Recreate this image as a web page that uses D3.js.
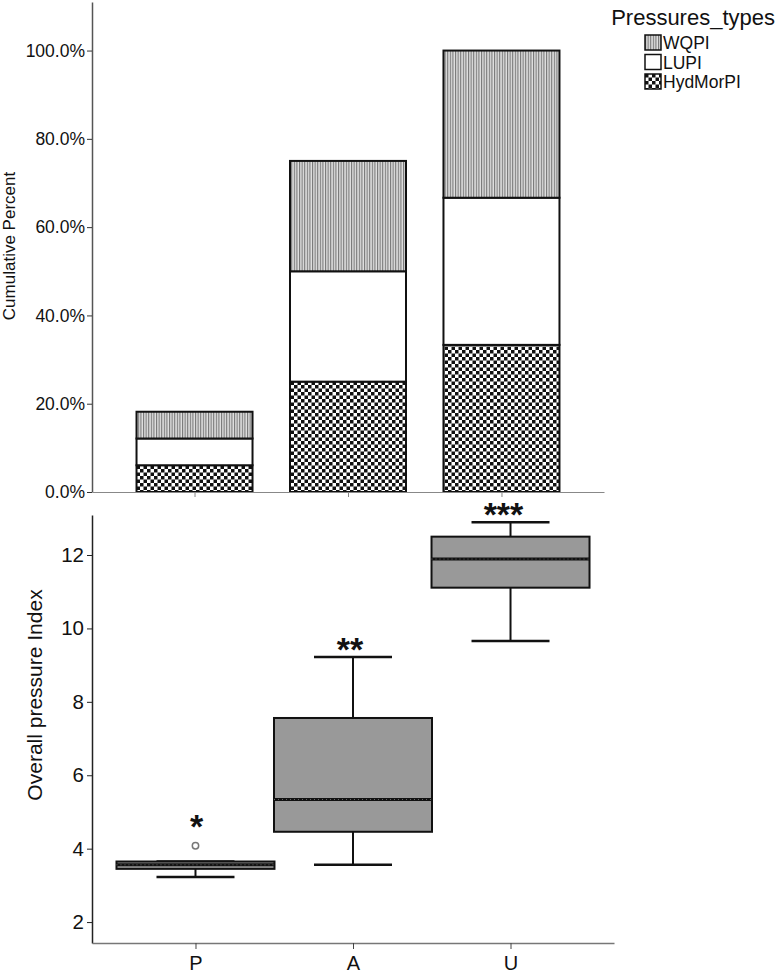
<!DOCTYPE html>
<html>
<head>
<meta charset="utf-8">
<script src="https://cdn.jsdelivr.net/npm/d3@7"></script>
<style>
  body { margin: 0; background: #fff; }
  svg { display: block; font-family: Arial, "Liberation Sans", sans-serif; }
</style>
</head>
<body>
<svg id="chart" width="780" height="976"></svg>
<script>
const FONT = 'Arial, "Liberation Sans", sans-serif';

// categories shared by both panels
const groups = ['P', 'A', 'U'];

// top panel: stacked percent per pressure type (bottom to top)
const pressureTypes = ['HydMorPI', 'LUPI', 'WQPI'];
const hydMorPI = [6.06, 25.0, 33.33];
const lupi = [6.06, 25.0, 33.33];
const wqpi = [6.06, 25.0, 33.34];
const percentTicks = [0, 20, 40, 60, 80, 100];

// bottom panel: box plot of the overall pressure index
const whiskerLow = [3.23, 3.56, 9.66];
const q1 = [3.45, 4.46, 11.11];
const median = [3.56, 5.34, 11.89];
const q3 = [3.65, 7.56, 12.50];
const whiskerHigh = [3.65, 9.22, 12.89];
const outliers = [{ group: 'P', value: 4.08 }];
const signif = ['*', '**', '***'];
const indexTicks = [2, 4, 6, 8, 10, 12];

const svg = d3.select('#chart');
const defs = svg.append('defs');

// vertical stripes for WQPI
const stripe = defs.append('pattern')
  .attr('id', 'stripes')
  .attr('patternUnits', 'userSpaceOnUse')
  .attr('width', 2.6).attr('height', 10);
stripe.append('rect').attr('width', 2.6).attr('height', 10).attr('fill', '#e0e0e0');
stripe.append('rect').attr('width', 1.1).attr('height', 10).attr('fill', '#767676');

// checkerboard for HydMorPI
const checker = defs.append('pattern')
  .attr('id', 'checker')
  .attr('patternUnits', 'userSpaceOnUse')
  .attr('width', 7).attr('height', 7);
checker.append('rect').attr('width', 7).attr('height', 7).attr('fill', '#fff');
checker.append('rect').attr('width', 3.5).attr('height', 3.5).attr('fill', '#111');
checker.append('rect').attr('x', 3.5).attr('y', 3.5).attr('width', 3.5).attr('height', 3.5).attr('fill', '#111');

const fills = { WQPI: 'url(#stripes)', LUPI: '#fff', HydMorPI: 'url(#checker)' };

// ---------- top panel ----------
const xTop = d3.scalePoint().domain(groups).range([92, 604]).padding(0.668);
const yTop = d3.scaleLinear().domain([0, 111]).range([492, 2]);
const barW = 116;

const table = groups.map((g, i) => ({ group: g, HydMorPI: hydMorPI[i], LUPI: lupi[i], WQPI: wqpi[i] }));
const stacked = d3.stack().keys(pressureTypes)(table);

const topPanel = svg.append('g');
stacked.forEach(layer => {
  topPanel.append('g').selectAll('rect')
    .data(layer)
    .join('rect')
    .attr('x', d => xTop(d.data.group) - barW / 2)
    .attr('width', barW)
    .attr('y', d => yTop(d[1]))
    .attr('height', d => yTop(d[0]) - yTop(d[1]))
    .attr('fill', fills[layer.key])
    .attr('stroke', '#111')
    .attr('stroke-width', 2);
});

const yAxisTop = topPanel.append('g')
  .attr('transform', 'translate(92,0)')
  .call(d3.axisLeft(yTop).tickValues(percentTicks).tickSize(5).tickSizeOuter(0)
    .tickFormat(d => d.toFixed(1) + '%'));
yAxisTop.attr('font-family', FONT);
yAxisTop.select('.domain').attr('stroke', '#555').attr('stroke-width', 1.5);
yAxisTop.selectAll('.tick line').attr('stroke', '#333');
yAxisTop.selectAll('.tick text').attr('font-size', 17.5).attr('fill', '#111').attr('x', -7);

const xAxisTop = topPanel.append('g')
  .attr('transform', 'translate(0,492)')
  .call(d3.axisBottom(xTop).tickSize(5).tickSizeOuter(0).tickFormat(''));
xAxisTop.select('.domain').attr('stroke', '#888').attr('stroke-width', 1.2);
xAxisTop.selectAll('.tick line').attr('stroke', '#888');

topPanel.append('text')
  .attr('transform', 'translate(15,246) rotate(-90)')
  .attr('text-anchor', 'middle')
  .attr('font-size', 17)
  .attr('fill', '#111')
  .text('Cumulative Percent');

// legend
const legend = svg.append('g');
legend.append('text')
  .attr('x', 775).attr('y', 25)
  .attr('text-anchor', 'end')
  .attr('font-size', 22)
  .attr('fill', '#111')
  .text('Pressures_types');
const legendOrder = ['WQPI', 'LUPI', 'HydMorPI'];
const item = legend.selectAll('g.item')
  .data(legendOrder)
  .join('g')
  .attr('class', 'item')
  .attr('transform', (d, i) => `translate(645,${35 + i * 19.5})`);
item.append('rect')
  .attr('width', 16).attr('height', 15)
  .attr('fill', d => fills[d])
  .attr('stroke', '#111').attr('stroke-width', 1.5);
item.append('text')
  .attr('x', 18).attr('y', 14)
  .attr('font-size', 17.5)
  .attr('fill', '#111')
  .text(d => d);

// ---------- bottom panel ----------
const xBot = d3.scalePoint().domain(groups).range([92, 614]).padding(0.657);
const yBot = d3.scaleLinear().domain([1.43, 13.09]).range([943, 515]);
const boxW = 158;
const capW = 78;

const boxes = groups.map((g, i) => ({
  group: g, lo: whiskerLow[i], q1: q1[i], med: median[i], q3: q3[i], hi: whiskerHigh[i], mark: signif[i],
  out: outliers.filter(o => o.group === g).map(o => o.value)
}));

const bot = svg.append('g');
const box = bot.selectAll('g.box')
  .data(boxes)
  .join('g')
  .attr('class', 'box');

// whiskers
box.append('line')
  .attr('x1', d => xBot(d.group)).attr('x2', d => xBot(d.group))
  .attr('y1', d => yBot(d.lo)).attr('y2', d => yBot(d.q1))
  .attr('stroke', '#111').attr('stroke-width', 2);
box.append('line')
  .attr('x1', d => xBot(d.group)).attr('x2', d => xBot(d.group))
  .attr('y1', d => yBot(d.q3)).attr('y2', d => yBot(d.hi))
  .attr('stroke', '#111').attr('stroke-width', 2);
box.append('line')
  .attr('x1', d => xBot(d.group) - capW / 2).attr('x2', d => xBot(d.group) + capW / 2)
  .attr('y1', d => yBot(d.lo)).attr('y2', d => yBot(d.lo))
  .attr('stroke', '#111').attr('stroke-width', 2.5);
box.append('line')
  .attr('x1', d => xBot(d.group) - capW / 2).attr('x2', d => xBot(d.group) + capW / 2)
  .attr('y1', d => yBot(d.hi)).attr('y2', d => yBot(d.hi))
  .attr('stroke', '#111').attr('stroke-width', 2.5);

box.append('rect')
  .attr('x', d => xBot(d.group) - boxW / 2)
  .attr('width', boxW)
  .attr('y', d => yBot(d.q3))
  .attr('height', d => yBot(d.q1) - yBot(d.q3))
  .attr('fill', '#999')
  .attr('stroke', '#111')
  .attr('stroke-width', 2);

// median (dotted heavy line)
box.append('line')
  .attr('x1', d => xBot(d.group) - boxW / 2).attr('x2', d => xBot(d.group) + boxW / 2)
  .attr('y1', d => yBot(d.med)).attr('y2', d => yBot(d.med))
  .attr('stroke', '#111').attr('stroke-width', 3);
box.append('line')
  .attr('x1', d => xBot(d.group) - boxW / 2).attr('x2', d => xBot(d.group) + boxW / 2)
  .attr('y1', d => yBot(d.med)).attr('y2', d => yBot(d.med))
  .attr('stroke', '#666').attr('stroke-width', 1)
  .attr('stroke-dasharray', '1,3');

// significance stars above the highest point of each group
box.append('text')
  .attr('x', d => xTop(d.group) + 2)
  .attr('y', d => d.out.length ? yBot(d3.max(d.out)) - 8 : yBot(d.hi) + 4)
  .attr('text-anchor', 'middle')
  .attr('font-size', 34)
  .attr('font-weight', 'bold')
  .attr('fill', '#111')
  .text(d => d.mark);

bot.selectAll('circle.outlier')
  .data(outliers)
  .join('circle')
  .attr('class', 'outlier')
  .attr('cx', d => xBot(d.group))
  .attr('cy', d => yBot(d.value))
  .attr('r', 3.2)
  .attr('fill', '#fff')
  .attr('stroke', '#777')
  .attr('stroke-width', 1.5);

const yAxisBot = bot.append('g')
  .attr('transform', 'translate(92,0)')
  .call(d3.axisLeft(yBot).tickValues(indexTicks).tickSize(5).tickSizeOuter(0));
yAxisBot.attr('font-family', FONT);
yAxisBot.select('.domain').attr('stroke', '#222').attr('stroke-width', 1.5);
yAxisBot.selectAll('.tick line').attr('stroke', '#222');
yAxisBot.selectAll('.tick text').attr('font-size', 20.5).attr('fill', '#111').attr('x', -8);

const xAxisBot = bot.append('g')
  .attr('transform', 'translate(0,943)')
  .call(d3.axisBottom(xBot).tickSize(6).tickSizeOuter(0));
xAxisBot.attr('font-family', FONT);
xAxisBot.select('.domain').attr('stroke', '#777').attr('stroke-width', 1.5);
xAxisBot.selectAll('.tick line').attr('stroke', '#444');
xAxisBot.selectAll('.tick text').attr('font-size', 20).attr('fill', '#111').attr('y', 13);

bot.append('text')
  .attr('transform', 'translate(42,695) rotate(-90)')
  .attr('text-anchor', 'middle')
  .attr('font-size', 21)
  .attr('fill', '#111')
  .text('Overall pressure Index');
</script>
</body>
</html>
